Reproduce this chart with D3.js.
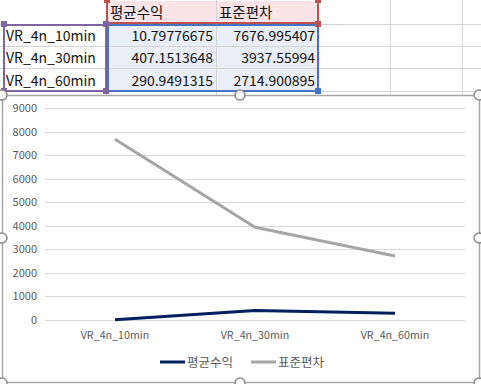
<!DOCTYPE html>
<html>
<head>
<meta charset="utf-8">
<script src="https://cdn.jsdelivr.net/npm/d3@7"></script>
<style>
  body { margin: 0; background: #fff; }
  svg { display: block; }
</style>
</head>
<body>
<div id="sheet"></div>
<script>
// values from the sheet
const categories = ["VR_4n_10min", "VR_4n_30min", "VR_4n_60min"];
const seriesNames = ["평균수익", "표준편차"];
const avgReturn = [10.79776675, 407.1513648, 290.9491315];
const stdDev = [7676.995407, 3937.55994, 2714.900895];
const avgReturnText = ["10.79776675", "407.1513648", "290.9491315"];
const stdDevText = ["7676.995407", "3937.55994", "2714.900895"];
const yTicks = [0, 1000, 2000, 3000, 4000, 5000, 6000, 7000, 8000, 9000];

const W = 481, H = 384;
const font = "'Noto Sans CJK KR', 'Malgun Gothic', sans-serif";

const svg = d3.select("#sheet").append("svg")
    .attr("width", W)
    .attr("height", H)
    .style("font-family", font);

// ---- spreadsheet behind the chart ----
const rowLines = [24, 46, 68, 91];
const colLines = [106, 216, 318, 390, 462];
const grid = svg.append("g").attr("stroke", "#d4d4d4").attr("stroke-width", 1);
rowLines.forEach(y => grid.append("line").attr("x1", 0).attr("x2", W).attr("y1", y + 0.5).attr("y2", y + 0.5));
colLines.forEach(x => grid.append("line").attr("x1", x + 0.5).attr("x2", x + 0.5).attr("y1", 0).attr("y2", 95));

// header fill
svg.append("rect").attr("x", 107).attr("y", 1).attr("width", 211).attr("height", 23).attr("fill", "#fbe4e5");
// data fill
svg.append("rect").attr("x", 107).attr("y", 25).attr("width", 211).attr("height", 66).attr("fill", "#e9eef8");
// inner cell lines over fills
svg.append("line").attr("x1", 216.5).attr("x2", 216.5).attr("y1", 0).attr("y2", 91).attr("stroke", "#d4d4d4");
[46, 68].forEach(y => svg.append("line").attr("x1", 107).attr("x2", 318).attr("y1", y + 0.5).attr("y2", y + 0.5).attr("stroke", "#d4d4d4"));

// range boxes
svg.append("rect").attr("x", 107).attr("y", -2).attr("width", 211).attr("height", 25)
    .attr("fill", "none").attr("stroke", "#c0504d").attr("stroke-width", 2);
svg.append("rect").attr("x", 4).attr("y", 25).attr("width", 102).attr("height", 66)
    .attr("fill", "none").attr("stroke", "#8064a2").attr("stroke-width", 2);
svg.append("rect").attr("x", 108).attr("y", 25).attr("width", 210).attr("height", 66)
    .attr("fill", "none").attr("stroke", "#4472c4").attr("stroke-width", 2);

// range handles
const handle = (x, y, c) => svg.append("rect").attr("x", x - 3).attr("y", y - 3).attr("width", 6).attr("height", 6).attr("fill", c);
handle(107, 0, "#c0504d"); handle(318, 0, "#c0504d"); handle(318, 24, "#c0504d");
handle(4, 24, "#8064a2"); handle(106, 24, "#8064a2"); handle(106, 91, "#8064a2"); handle(4, 91, "#8064a2");
handle(318, 91, "#4472c4");

const cellText = svg.append("g").attr("font-size", 14).attr("fill", "#111");
seriesNames.forEach((s, i) => cellText.append("text").attr("x", [110, 219][i]).attr("y", 18).attr("font-size", 14.5).text(s));
categories.forEach((c, i) => {
    const y = 41 + i * 22.3;
    cellText.append("text").attr("x", 6).attr("y", y).text(c);
    cellText.append("text").attr("x", 213).attr("y", y).attr("text-anchor", "end").text(avgReturnText[i]);
    cellText.append("text").attr("x", 315).attr("y", y).attr("text-anchor", "end").text(stdDevText[i]);
});

// ---- chart object ----
const chart = svg.append("g");
chart.append("rect").attr("x", 2.5).attr("y", 95.5).attr("width", 477).attr("height", 287)
    .attr("fill", "#fff").attr("stroke", "#a6a6a6").attr("stroke-width", 1.5);

const x = d3.scalePoint().domain(categories).range([45, 465]).padding(0.5);
const y = d3.scaleLinear().domain([0, 9000]).range([320, 108]);

chart.append("g")
    .selectAll("line")
    .data(yTicks)
    .join("line")
    .attr("x1", 45).attr("x2", 465)
    .attr("y1", d => Math.round(y(d)) + 0.5).attr("y2", d => Math.round(y(d)) + 0.5)
    .attr("stroke", "#d9d9d9");

chart.append("g")
    .selectAll("text")
    .data(yTicks)
    .join("text")
    .attr("x", 37).attr("y", d => y(d) + 4)
    .attr("text-anchor", "end")
    .attr("font-size", 11).attr("fill", "#595959")
    .text(d => d);

chart.append("g")
    .selectAll("text")
    .data(categories)
    .join("text")
    .attr("x", d => x(d)).attr("y", 339)
    .attr("text-anchor", "middle")
    .attr("font-size", 10.7).attr("fill", "#595959")
    .text(d => d);

const colors = ["#002060", "#a5a5a5"];
const line = d3.line().x((d, i) => x(categories[i])).y(d => y(d));
// gray first so navy sits on top
[stdDev, avgReturn].forEach((vals, k) => {
    chart.append("path")
        .datum(vals)
        .attr("d", line)
        .attr("fill", "none")
        .attr("stroke", colors[1 - k])
        .attr("stroke-width", 3)
        .attr("stroke-linejoin", "round");
});

// legend
const legend = chart.append("g").attr("font-size", 12.5).attr("fill", "#595959");
const legX = [160, 251];
seriesNames.forEach((s, i) => {
    legend.append("line").attr("x1", legX[i]).attr("x2", legX[i] + 25)
        .attr("y1", 362).attr("y2", 362)
        .attr("stroke", colors[i]).attr("stroke-width", 3);
    legend.append("text").attr("x", legX[i] + 27).attr("y", 366.5).text(s);
});

// chart selection handles
const circ = (cx, cy) => svg.append("circle").attr("cx", cx).attr("cy", cy).attr("r", 5)
    .attr("fill", "#fff").attr("stroke", "#8c8c8c").attr("stroke-width", 1.5);
[[2, 95], [240, 95], [479, 95], [2, 238], [479, 238], [2, 383], [240, 383], [479, 383]]
    .forEach(p => circ(p[0], p[1]));
</script>
</body>
</html>
